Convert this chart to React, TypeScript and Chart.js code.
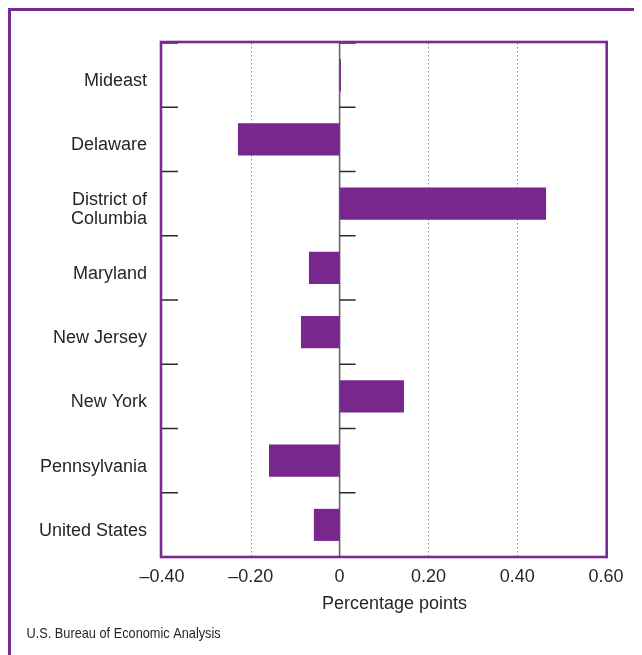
import React, { useEffect, useRef } from 'react';
import { Chart, registerables } from 'chart.js';

Chart.register(...registerables);

const categories: (string | string[])[] = [
  'Mideast',
  'Delaware',
  ['District of', 'Columbia'],
  'Maryland',
  'New Jersey',
  'New York',
  'Pennsylvania',
  'United States',
];
const values = [0.003, -0.229, 0.465, -0.069, -0.087, 0.145, -0.159, -0.058];
const xMin = -0.4;
const xMax = 0.6;
const xStep = 0.2;
const axisTitle = 'Percentage points';
const sourceText = 'U.S. Bureau of Economic Analysis';

const PURPLE = '#78288c';
const FRAME = '#7b2b90';
const TEXT = '#262626';
const FONT = '"Liberation Sans", Arial, Helvetica, sans-serif';

const fmt = (v: number) => {
  if (Math.abs(v) < 1e-9) return '0';
  return (v < 0 ? '\u2013' : '') + Math.abs(v).toFixed(2);
};

const decor = {
  id: 'decor',
  beforeDatasetsDraw(chart: any) {
    const { ctx, chartArea: a, scales } = chart;
    const x = scales.x;
    const y = scales.y;
    ctx.save();
    // dotted grid lines
    ctx.strokeStyle = '#8c8c8c';
    ctx.lineWidth = 1;
    ctx.setLineDash([1.5, 2.5]);
    x.ticks.forEach((t: any) => {
      const v = t.value;
      if (Math.abs(v) < 1e-9 || v <= xMin + 1e-9 || v >= xMax - 1e-9) return;
      const px = Math.round(x.getPixelForValue(v)) + 0.5;
      ctx.beginPath();
      ctx.moveTo(px, a.top);
      ctx.lineTo(px, a.bottom);
      ctx.stroke();
    });
    ctx.setLineDash([]);
    // zero line
    const z = x.getPixelForValue(0);
    ctx.strokeStyle = '#666666';
    ctx.lineWidth = 1.6;
    ctx.beginPath();
    ctx.moveTo(z, a.top);
    ctx.lineTo(z, a.bottom);
    ctx.stroke();
    // category boundary tick marks
    const band = y.getPixelForValue(1) - y.getPixelForValue(0);
    ctx.strokeStyle = '#2a2a2a';
    ctx.lineWidth = 1.6;
    for (let i = 0; i < categories.length; i++) {
      const yy = y.getPixelForValue(i) - band / 2;
      ctx.beginPath();
      ctx.moveTo(a.left, yy);
      ctx.lineTo(a.left + 16, yy);
      ctx.moveTo(z, yy);
      ctx.lineTo(z + 16, yy);
      ctx.stroke();
    }
    ctx.restore();
  },
  afterDatasetsDraw(chart: any) {
    const { ctx, chartArea: a } = chart;
    ctx.save();
    ctx.strokeStyle = FRAME;
    ctx.lineWidth = 2.6;
    ctx.strokeRect(a.left - 1, a.top - 1, a.right - a.left + 1.7, a.bottom - a.top + 1);
    ctx.restore();
  },
  afterDraw(chart: any) {
    const { ctx, chartArea: a, width } = chart;
    ctx.save();
    // outer border (left and top)
    ctx.fillStyle = FRAME;
    ctx.fillRect(0, 0, 3, chart.height);
    ctx.fillRect(0, 0, width, 3);
    // axis title
    ctx.fillStyle = TEXT;
    ctx.font = `18px ${FONT}`;
    ctx.textAlign = 'center';
    ctx.textBaseline = 'alphabetic';
    ctx.fillText(axisTitle, 386.5, a.bottom + 52);
    // source
    ctx.translate(18.5, a.bottom + 81);
    ctx.scale(0.85, 1);
    ctx.font = `15px ${FONT}`;
    ctx.textAlign = 'left';
    ctx.fillText(sourceText, 0, 0);
    ctx.restore();
  },
};

export default function App() {
  const ref = useRef<HTMLCanvasElement | null>(null);
  useEffect(() => {
    if (!ref.current) return;
    const chart = new Chart(ref.current, {
      type: 'bar',
      data: {
        labels: categories as any,
        datasets: [
          {
            data: values,
            backgroundColor: PURPLE,
            borderWidth: 0,
            barPercentage: 0.5,
            categoryPercentage: 1,
          },
        ],
      },
      options: {
        indexAxis: 'y',
        animation: false,
        responsive: false,
        maintainAspectRatio: false,
        layout: { padding: { left: 0, top: 35, right: 36, bottom: 0 } },
        plugins: { legend: { display: false }, tooltip: { enabled: false } },
        scales: {
          x: {
            min: xMin,
            max: xMax,
            ticks: {
              stepSize: xStep,
              color: TEXT,
              font: { family: FONT, size: 18 },
              padding: 9,
              maxRotation: 0,
              autoSkip: false,
              callback: (v: any) => fmt(Number(v)),
            },
            grid: { display: false, drawTicks: false },
            border: { display: false },
            afterFit: (s: any) => {
              s.height = 98;
            },
          },
          y: {
            ticks: {
              color: TEXT,
              font: { family: FONT, size: 18, lineHeight: 1.05 },
              padding: 15,
              labelOffset: 6,
              autoSkip: false,
            },
            grid: { display: false, drawTicks: false },
            border: { display: false },
            afterFit: (s: any) => {
              s.width = 154;
            },
          },
        },
      },
      plugins: [decor],
    });
    return () => chart.destroy();
  }, []);
  return (
    <div style={{ position: 'relative', width: 634, height: 647 }}>
      <canvas ref={ref} width={634} height={647} style={{ display: 'block', width: 634, height: 647 }} />
    </div>
  );
}
